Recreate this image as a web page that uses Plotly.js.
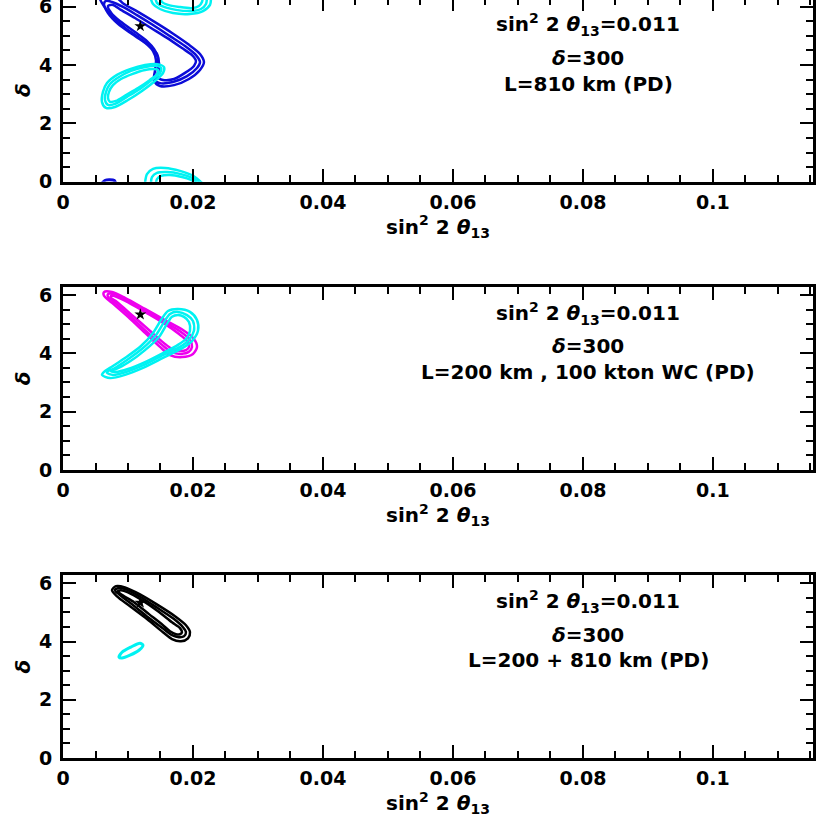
<!DOCTYPE html>
<html>
<head>
<meta charset="utf-8">
<script src="https://cdn.plot.ly/plotly-3.0.1.min.js"></script>
<style>
html,body{margin:0;padding:0;background:#fff;overflow:hidden;}
#plot{position:absolute;top:-4px;left:0;width:822px;height:828px;}
</style>
</head>
<body>
<div id="plot"></div>
<script>
// ---------- axis ticks ----------
const xTickVals = [0, 0.02, 0.04, 0.06, 0.08, 0.1];
const xTickText = ["0", "0.02", "0.04", "0.06", "0.08", "0.1"];
const yTickVals = [0, 2, 4, 6];
const yTickText = ["0", "2", "4", "6"];

// ---------- true point ----------
const trueX = [0.0119];
const trueY = [5.33];

// ---------- panel 1: L=810 km ----------
const p1BlueOutX = [0.00554,0.00631,0.00754,0.00938,0.01154,0.01338,0.01446,0.01477,0.01462,0.01415,0.01492,0.01708,0.01938,0.02108,0.02169,0.02108,0.01923,0.01677,0.01415,0.01154,0.00938,0.00785];
const p1BlueOutY = [6.37,6.02,5.68,5.30,4.96,4.65,4.38,4.07,3.73,3.42,3.28,3.31,3.52,3.83,4.10,4.38,4.72,5.10,5.47,5.82,6.09,6.37];
const p1BlueMidX = [0.00631,0.00692,0.00846,0.01062,0.01262,0.01385,0.01431,0.01415,0.01400,0.01492,0.01692,0.01908,0.02062,0.02108,0.02046,0.01877,0.01646,0.01385,0.01138,0.00923,0.00754,0.00662];
const p1BlueMidY = [6.09,5.78,5.41,5.06,4.76,4.48,4.17,3.80,3.49,3.38,3.42,3.62,3.90,4.10,4.34,4.65,4.99,5.37,5.71,5.99,6.16,6.20];
const p1BlueInX = [0.00692,0.00754,0.00892,0.01108,0.01292,0.01400,0.01462,0.01462,0.01462,0.01538,0.01708,0.01877,0.02015,0.02046,0.01985,0.01831,0.01600,0.01354,0.01108,0.00892,0.00769];
const p1BlueInY = [6.02,5.75,5.48,5.13,4.82,4.55,4.24,3.83,3.56,3.49,3.52,3.73,3.97,4.14,4.34,4.58,4.93,5.27,5.61,5.89,6.06];
const p1BlueWrapX = [0.0060,0.0065,0.0072,0.0079,0.0081];
const p1BlueWrapY = [-0.05,0.05,0.07,0.04,-0.05];

const p1CyanOutX = [0.00615,0.00677,0.00831,0.01031,0.01262,0.01446,0.01554,0.01538,0.01415,0.01215,0.01000,0.00800,0.00662,0.00600];
const p1CyanOutY = [3.08,3.38,3.66,3.86,4.00,4.03,3.93,3.72,3.45,3.11,2.80,2.56,2.53,2.73];
const p1CyanMidX = [0.00662,0.00723,0.00862,0.01046,0.01262,0.01431,0.01508,0.01492,0.01369,0.01185,0.00985,0.00800,0.00692,0.00646];
const p1CyanMidY = [3.08,3.35,3.59,3.80,3.93,3.97,3.90,3.72,3.49,3.18,2.91,2.67,2.63,2.80];
const p1CyanInX = [0.00708,0.00769,0.00892,0.01062,0.01262,0.01400,0.01462,0.01446,0.01338,0.01154,0.00969,0.00815,0.00723,0.00692];
const p1CyanInY = [3.08,3.31,3.52,3.69,3.83,3.86,3.83,3.69,3.49,3.21,2.97,2.77,2.74,2.87];

const p1CyanTopOutX = [0.01338,0.01385,0.01492,0.01692,0.01954,0.02154,0.02262,0.02277];
const p1CyanTopOutY = [6.37,6.09,5.92,5.78,5.75,5.85,6.06,6.37];
const p1CyanTopMidX = [0.01415,0.01446,0.01554,0.01738,0.01969,0.02123,0.02200,0.02215];
const p1CyanTopMidY = [6.37,6.13,5.99,5.89,5.85,5.92,6.09,6.37];
const p1CyanTopInX = [0.01492,0.01523,0.01615,0.01785,0.01985,0.02092,0.02138,0.02154];
const p1CyanTopInY = [6.37,6.16,6.06,5.99,5.95,6.02,6.16,6.37];

const p1CyanBotOutX = [0.01262,0.01292,0.01385,0.01569,0.01800,0.02000,0.02138];
const p1CyanBotOutY = [-0.04,0.26,0.44,0.47,0.37,0.20,-0.04];
const p1CyanBotMidX = [0.01354,0.01369,0.01446,0.01600,0.01815,0.01985,0.02092];
const p1CyanBotMidY = [-0.04,0.16,0.30,0.33,0.26,0.13,-0.04];
const p1CyanBotInX = [0.01431,0.01446,0.01508,0.01646,0.01831,0.01969,0.02046];
const p1CyanBotInY = [-0.04,0.09,0.20,0.23,0.16,0.06,-0.04];

// ---------- panel 2: L=200 km, 100 kton WC ----------
const p2MagOutX = [0.00631,0.00754,0.00954,0.01262,0.01569,0.01846,0.02015,0.02062,0.02000,0.01831,0.01646,0.01492,0.01262,0.01000,0.00754,0.00631];
const p2MagOutY = [6.10,6.10,5.90,5.52,5.14,4.80,4.49,4.22,3.98,3.87,3.94,4.22,4.70,5.25,5.73,5.97];
const p2MagMidX = [0.00692,0.00785,0.00985,0.01277,0.01569,0.01815,0.01954,0.01985,0.01938,0.01815,0.01662,0.01523,0.01292,0.01031,0.00785,0.00692];
const p2MagMidY = [6.03,6.03,5.83,5.45,5.07,4.73,4.46,4.22,4.05,3.98,4.05,4.29,4.73,5.28,5.76,5.93];
const p2MagInX = [0.00738,0.00831,0.01015,0.01292,0.01569,0.01785,0.01908,0.01938,0.01892,0.01800,0.01677,0.01554,0.01323,0.01062,0.00831,0.00738];
const p2MagInY = [5.97,5.93,5.73,5.38,5.01,4.66,4.42,4.22,4.11,4.08,4.15,4.35,4.80,5.31,5.76,5.90];

const p2CyanOutX = [0.00600,0.00723,0.00954,0.01231,0.01538,0.01815,0.01985,0.02077,0.02062,0.01954,0.01769,0.01615,0.01508,0.01385,0.01200,0.00954,0.00723,0.00631];
const p2CyanOutY = [3.26,3.15,3.26,3.50,3.84,4.15,4.42,4.77,5.14,5.42,5.52,5.45,5.14,4.70,4.25,3.84,3.50,3.36];
const p2CyanMidX = [0.00677,0.00769,0.00969,0.01246,0.01538,0.01800,0.01938,0.02015,0.02000,0.01908,0.01769,0.01646,0.01554,0.01431,0.01231,0.00985,0.00769,0.00692];
const p2CyanMidY = [3.33,3.26,3.36,3.60,3.94,4.22,4.46,4.77,5.11,5.31,5.42,5.35,5.07,4.63,4.18,3.77,3.46,3.39];
const p2CyanInX = [0.00738,0.00815,0.01000,0.01262,0.01538,0.01769,0.01892,0.01954,0.01938,0.01862,0.01769,0.01677,0.01600,0.01477,0.01262,0.01015,0.00815,0.00754];
const p2CyanInY = [3.39,3.36,3.46,3.70,4.01,4.29,4.49,4.77,5.07,5.25,5.31,5.25,5.01,4.56,4.11,3.70,3.46,3.43];

// ---------- panel 3: L=200 + 810 km ----------
const p3BlackOutX = [0.00754,0.00815,0.00954,0.01185,0.01462,0.01723,0.01892,0.01954,0.01923,0.01815,0.01677,0.01538,0.01292,0.01031,0.00831];
const p3BlackOutY = [5.76,5.90,5.86,5.62,5.25,4.87,4.56,4.32,4.11,4.01,4.08,4.32,4.77,5.21,5.55];
const p3BlackMidX = [0.00800,0.00846,0.00969,0.01200,0.01462,0.01708,0.01846,0.01892,0.01862,0.01785,0.01677,0.01554,0.01308,0.01062,0.00862];
const p3BlackMidY = [5.76,5.83,5.79,5.52,5.14,4.77,4.49,4.32,4.18,4.15,4.22,4.42,4.83,5.28,5.62];
const p3BlackInX = [0.00846,0.00892,0.01000,0.01215,0.01462,0.01677,0.01800,0.01831,0.01800,0.01738,0.01646,0.01538,0.01323,0.01092,0.00892];
const p3BlackInY = [5.73,5.76,5.69,5.42,5.04,4.66,4.46,4.32,4.25,4.25,4.35,4.56,4.94,5.35,5.62];

const p3CyanX = [0.00862,0.00908,0.01046,0.01185,0.01231,0.01169,0.01031,0.00908];
const p3CyanY = [3.46,3.63,3.81,3.94,3.87,3.70,3.53,3.43];

// ---------- annotation text ----------
const line1 = "sin<sup>2</sup> 2 <i>θ</i><sub>13</sub>=0.011";
const line2 = "<i>δ</i>=300";
const line3 = ["L=810 km (PD)", "L=200 km , 100 kton WC (PD)", "L=200 + 810 km (PD)"];
const xTitle = "sin<sup>2</sup> 2 <i>θ</i><sub>13</sub>";
const yTitle = "<i>δ</i>";

// ---------- colours ----------
const BLUE = '#0c0cd8', CYAN = '#00f2f2', MAG = '#ee00ee', BLACK = '#000000';
const LW = 2.5;

function closed(a){ return a.concat([a[0]]); }
function loop(x, y, color, ax, w){
  return {x: closed(x), y: closed(y), xaxis: ax[0], yaxis: ax[1], mode: 'lines',
          line: {color: color, width: w || LW, shape: 'spline', smoothing: 0.8}, hoverinfo: 'skip'};
}
function arc(x, y, color, ax, w){
  return {x: x, y: y, xaxis: ax[0], yaxis: ax[1], mode: 'lines',
          line: {color: color, width: w || LW, shape: 'spline', smoothing: 0.8}, hoverinfo: 'skip'};
}
function star(ax){
  return {x: trueX, y: trueY, xaxis: ax[0], yaxis: ax[1], mode: 'markers',
          marker: {symbol: 'star', size: 9, color: 'black'}, hoverinfo: 'skip'};
}
const A1 = ['x', 'y'], A2 = ['x2', 'y2'], A3 = ['x3', 'y3'];

const traces = [
  loop(p1BlueOutX, p1BlueOutY, BLUE, A1), loop(p1BlueMidX, p1BlueMidY, BLUE, A1), loop(p1BlueInX, p1BlueInY, BLUE, A1),
  arc(p1BlueWrapX, p1BlueWrapY, BLUE, A1, 3),
  loop(p1CyanOutX, p1CyanOutY, CYAN, A1), loop(p1CyanMidX, p1CyanMidY, CYAN, A1), loop(p1CyanInX, p1CyanInY, CYAN, A1),
  arc(p1CyanTopOutX, p1CyanTopOutY, CYAN, A1), arc(p1CyanTopMidX, p1CyanTopMidY, CYAN, A1), arc(p1CyanTopInX, p1CyanTopInY, CYAN, A1),
  arc(p1CyanBotOutX, p1CyanBotOutY, CYAN, A1), arc(p1CyanBotMidX, p1CyanBotMidY, CYAN, A1), arc(p1CyanBotInX, p1CyanBotInY, CYAN, A1),
  star(A1),
  loop(p2MagOutX, p2MagOutY, MAG, A2), loop(p2MagMidX, p2MagMidY, MAG, A2), loop(p2MagInX, p2MagInY, MAG, A2),
  loop(p2CyanOutX, p2CyanOutY, CYAN, A2), loop(p2CyanMidX, p2CyanMidY, CYAN, A2), loop(p2CyanInX, p2CyanInY, CYAN, A2),
  star(A2),
  loop(p3BlackOutX, p3BlackOutY, BLACK, A3), loop(p3BlackMidX, p3BlackMidY, BLACK, A3), loop(p3BlackInX, p3BlackInY, BLACK, A3),
  loop(p3CyanX, p3CyanY, CYAN, A3, 3),
  star(A3)
];

const tickFont = {family: 'DejaVu Sans', size: 19, color: 'black', weight: 'bold'};
const annFont = {family: 'DejaVu Sans', size: 20, color: 'black', weight: 'bold'};

function xAxis(anchor){
  return {
    domain: [0, 1], anchor: anchor, range: [0, 0.1154], autorange: false,
    showline: true, linewidth: 3, linecolor: 'black', mirror: 'ticks',
    ticks: 'inside', ticklen: 13, tickwidth: 2, tickcolor: 'black',
    tickmode: 'array', tickvals: xTickVals, ticktext: xTickText,
    minor: {tickmode: 'linear', tick0: 0, dtick: 0.005, ticks: 'inside', ticklen: 7, tickwidth: 2, tickcolor: 'black'},
    showgrid: false, zeroline: false, tickfont: tickFont, ticklabelstandoff: 1, ticklabeloverflow: 'allow',
    title: {text: xTitle, font: annFont, standoff: 6}
  };
}
function yAxis(anchor, dom){
  return {
    domain: dom, anchor: anchor, range: [0, 6.2832], autorange: false,
    showline: true, linewidth: 3, linecolor: 'black', mirror: 'ticks',
    ticks: 'inside', ticklen: 13, tickwidth: 2, tickcolor: 'black',
    tickmode: 'array', tickvals: yTickVals, ticktext: yTickText,
    minor: {tickmode: 'linear', tick0: 0, dtick: 0.5, ticks: 'inside', ticklen: 7, tickwidth: 2, tickcolor: 'black'},
    showgrid: false, zeroline: false, tickfont: tickFont, ticklabelstandoff: 4, ticklabeloverflow: 'allow',
    title: {text: yTitle, font: annFont, standoff: 3}
  };
}

const doms = [[0.77572, 0.99710], [0.42754, 0.64891], [0.07971, 0.30072]];
const annX = 0.0808;
const annY = [5.38, 4.24, 3.35];
const annotations = [];
['', '2', '3'].forEach(function(s, i){
  const xr = 'x' + s, yr = 'y' + s;
  annotations.push({xref: xr, yref: yr, x: annX, y: annY[0], text: line1, showarrow: false, font: annFont, xanchor: 'center', yanchor: 'middle'});
  annotations.push({xref: xr, yref: yr, x: annX, y: annY[1], text: line2, showarrow: false, font: annFont, xanchor: 'center', yanchor: 'middle'});
  annotations.push({xref: xr, yref: yr, x: annX, y: annY[2], text: line3[i], showarrow: false, font: annFont, xanchor: 'center', yanchor: 'middle'});
});

const layout = {
  width: 822, height: 828, margin: {l: 63, r: 9, t: 0, b: 0},
  paper_bgcolor: 'white', plot_bgcolor: 'white', showlegend: false,
  xaxis: xAxis('y'), yaxis: yAxis('x', doms[0]),
  xaxis2: xAxis('y2'), yaxis2: yAxis('x2', doms[1]),
  xaxis3: xAxis('y3'), yaxis3: yAxis('x3', doms[2]),
  annotations: annotations
};

Plotly.newPlot('plot', traces, layout, {staticPlot: true, displayModeBar: false});
</script>
</body>
</html>
